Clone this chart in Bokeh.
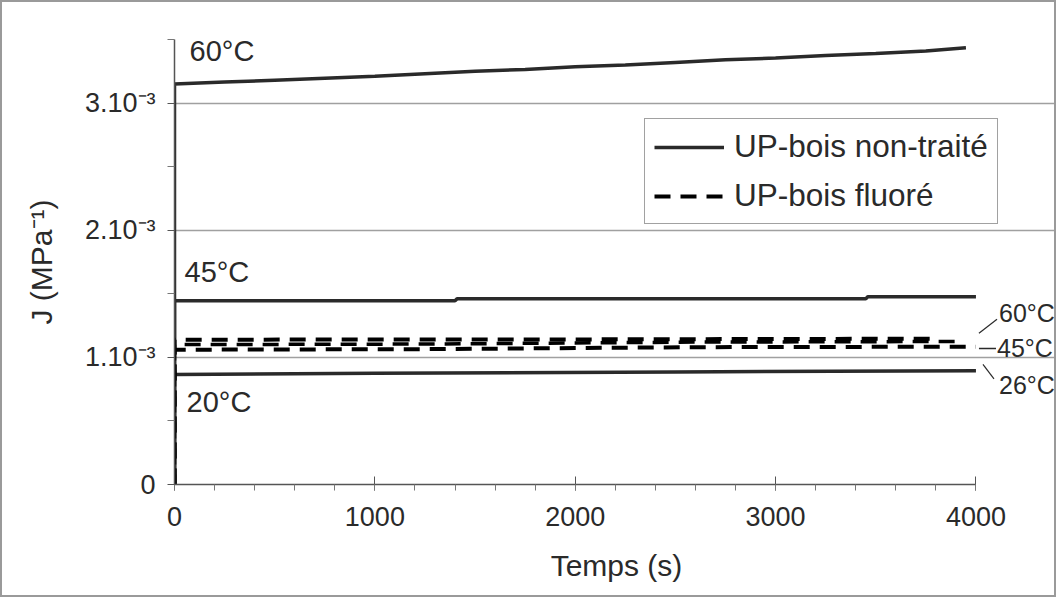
from bokeh.plotting import figure
from bokeh.models import (FixedTicker, Legend, LegendItem, Label, Range1d)
from bokeh.embed import file_html
from bokeh.resources import INLINE

# ---- data (t in s, J in MPa^-1) ----
t_nt60 = [0, 0, 250, 500, 750, 1000, 1250, 1500, 1750, 2000, 2250, 2500, 2750, 3000, 3250, 3500, 3750, 3950]
j_nt60 = [0, 3.15e-3, 3.165e-3, 3.18e-3, 3.195e-3, 3.21e-3, 3.23e-3, 3.25e-3, 3.265e-3, 3.285e-3,
          3.30e-3, 3.32e-3, 3.34e-3, 3.355e-3, 3.375e-3, 3.39e-3, 3.41e-3, 3.435e-3]

t_nt45 = [0, 0, 1400, 1410, 3450, 3460, 4000]
j_nt45 = [0, 1.445e-3, 1.445e-3, 1.46e-3, 1.46e-3, 1.477e-3, 1.477e-3]

t_nt20 = [0, 0, 1000, 2500, 4000]
j_nt20 = [0, 0.865e-3, 0.875e-3, 0.885e-3, 0.895e-3]

t_fl60 = [0, 0, 2000, 3800]
j_fl60 = [0, 1.139e-3, 1.141e-3, 1.147e-3]

t_fl45 = [0, 0, 1300, 2600, 3900]
j_fl45 = [0, 1.10e-3, 1.105e-3, 1.12e-3, 1.125e-3]

t_fl26 = [0, 0, 1300, 2600, 4000]
j_fl26 = [0, 1.06e-3, 1.065e-3, 1.08e-3, 1.084e-3]

x_ticks = [0, 1000, 2000, 3000, 4000]
x_minor = [v for v in range(0, 4001, 200)]
y_ticks = [0, 1e-3, 2e-3, 3e-3]
y_minor = [0.5e-3, 1.5e-3, 2.5e-3, 3.5e-3]
y_labels = {0: "0", 1e-3: "1.10⁻³", 2e-3: "2.10⁻³", 3e-3: "3.10⁻³"}

FONT = "Liberation Sans"
INK = "#2a2a2a"

p = figure(width=1056, height=597, output_backend="svg", toolbar_location=None,
           x_range=Range1d(0, 4412), y_range=Range1d(0, 3.5e-3),
           min_border_left=172, min_border_right=0, min_border_top=37, min_border_bottom=115)
p.styles = {"border": "2px solid #9a9a9a"}
p.outline_line_color = None
p.background_fill_color = "white"
p.border_fill_color = "white"

# axes
xa = p.xaxis[0]
xa.ticker = FixedTicker(ticks=x_ticks, minor_ticks=x_minor)
xa.bounds = (0, 4000)
xa.axis_label = "Temps (s)"
ya = p.yaxis[0]
ya.ticker = FixedTicker(ticks=y_ticks, minor_ticks=y_minor)
ya.bounds = (0, 3.5e-3)
ya.major_label_overrides = y_labels
ya.axis_label = "J (MPa⁻¹)"
for ax in (xa, ya):
    ax.axis_line_color = "#555555"
    ax.axis_line_width = 1.5
    ax.major_tick_line_color = "#555555"
    ax.minor_tick_line_color = "#777777"
    ax.major_label_text_font = FONT
    ax.major_label_text_font_size = "27px"
    ax.major_label_text_color = INK
    ax.axis_label_text_font = FONT
    ax.axis_label_text_font_size = "30px"
    ax.axis_label_text_font_style = "normal"
    ax.axis_label_text_color = INK
xa.major_tick_in = 8
xa.major_tick_out = 6
xa.minor_tick_in = 0
xa.minor_tick_out = 6
xa.major_label_standoff = 16
xa.axis_label_standoff = 20
ya.major_tick_in = 0
ya.major_tick_out = 7
ya.minor_tick_in = 0
ya.minor_tick_out = 7
ya.major_label_standoff = 12
ya.axis_label_standoff = 24

# grids
p.xgrid.visible = False
p.ygrid.ticker = FixedTicker(ticks=[1e-3, 2e-3, 3e-3])
p.ygrid.bounds = (0, 4000)
p.ygrid.grid_line_color = "#a0a0a0"
p.ygrid.grid_line_width = 1.3

# curves
r_nt60 = p.line(t_nt60, j_nt60, line_color=INK, line_width=3.5)
r_nt45 = p.line(t_nt45, j_nt45, line_color=INK, line_width=3.5)
r_nt20 = p.line(t_nt20, j_nt20, line_color=INK, line_width=3.5)
r_fl60 = p.line(t_fl60, j_fl60, line_color="black", line_width=4, line_dash="16 10")
r_fl45 = p.line(t_fl45, j_fl45, line_color="black", line_width=3.5, line_dash="16 10", line_dash_offset=6)
r_fl26 = p.line(t_fl26, j_fl26, line_color="black", line_width=4, line_dash="16 10")

# leader lines for right labels
p.line([4015, 4105], [1.19e-3, 1.30e-3], line_color=INK, line_width=1.2)
p.line([4015, 4100], [1.07e-3, 1.07e-3], line_color=INK, line_width=1.5)
p.line([4035, 4090], [0.945e-3, 0.83e-3], line_color=INK, line_width=1.2)

def lab(x, y, s, size="29px"):
    p.add_layout(Label(x=x, y=y, text=s, text_font=FONT, text_font_size=size,
                       text_color=INK, text_align="left", text_baseline="middle"))

lab(75, 3.41e-3, "60°C")
lab(50, 1.67e-3, "45°C")
lab(60, 0.65e-3, "20°C")
lab(4115, 1.35e-3, "60°C", "25px")
lab(4105, 1.07e-3, "45°C", "25px")
lab(4115, 0.78e-3, "26°C", "25px")

leg = Legend(items=[LegendItem(label="UP-bois non-traité", renderers=[r_nt60]),
                    LegendItem(label="UP-bois fluoré", renderers=[r_fl60])],
             location=(470, 260), label_text_font=FONT, label_text_font_size="31.5px",
             label_text_color=INK, glyph_width=70, glyph_height=36, label_standoff=10,
             label_height=36, spacing=12, padding=9, margin=0, border_line_color="#444444",
             border_line_width=1.2, background_fill_alpha=1.0)
p.add_layout(leg, "center")

open("out.html", "w").write(file_html(p, INLINE))
